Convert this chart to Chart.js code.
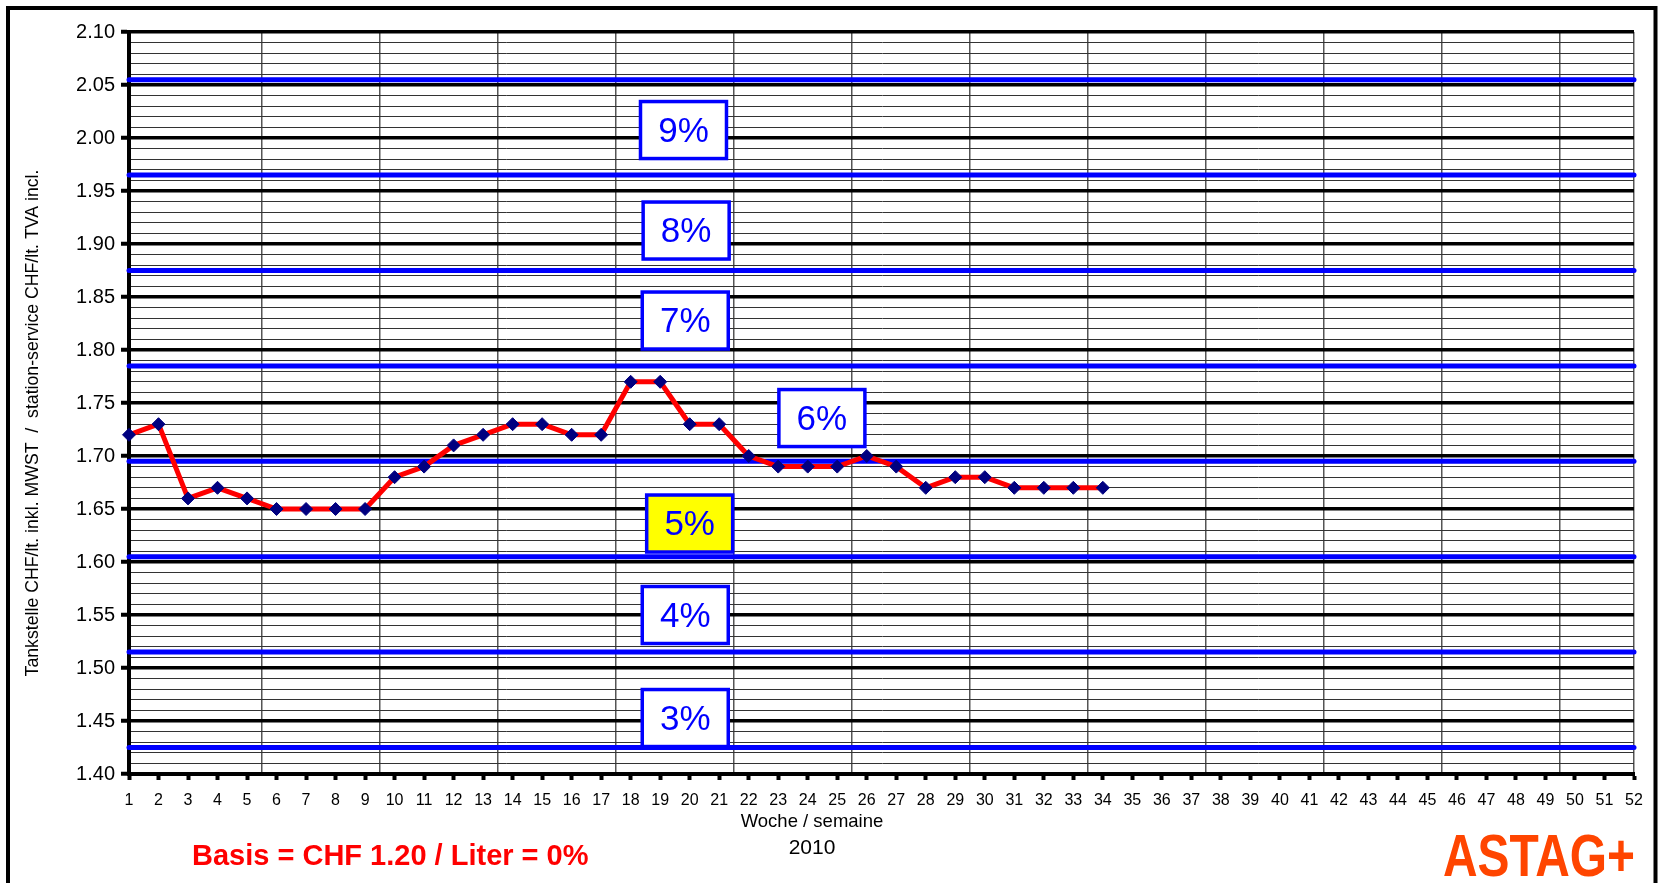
<!DOCTYPE html>
<html><head><meta charset="utf-8">
<script src="https://cdn.jsdelivr.net/npm/chart.js@4.4.0/dist/chart.umd.min.js"></script>
<style>html,body{margin:0;padding:0;background:#fff}#wrap{width:1658px;height:883px;position:relative}</style>
</head><body><div id="wrap"><canvas id="c"></canvas></div>
<script>
// ---- data ----
const weeks = [1,2,3,4,5,6,7,8,9,10,11,12,13,14,15,16,17,18,19,20,21,22,23,24,25,26,27,28,29,30,31,32,33,34];
const prices = [1.72,1.73,1.66,1.67,1.66,1.65,1.65,1.65,1.65,1.68,1.69,1.71,1.72,1.73,1.73,1.72,1.72,1.77,1.77,1.73,1.73,1.70,1.69,1.69,1.69,1.70,1.69,1.67,1.68,1.68,1.67,1.67,1.67,1.67];
const bandLimits = [1.425,1.515,1.605,1.695,1.785,1.875,1.965,2.055];
const bandLabels = ['3%','4%','5%','6%','7%','8%','9%'];
const bandLabelWeeks = [19.85,19.85,20.0,24.48,19.85,19.88,19.79];
const bandLabelPrices = [1.4528,1.550,1.6363,1.7358,1.8278,1.9127,2.0075];
const currentBand = '5%';
const weekGridLines = [5.5,9.5,13.5,17.5,21.5,25.5,29.5,33.5,37.5,41.5,45.5,49.5,52];
const weekMin = 1, weekMax = 52;
const priceMin = 1.40, priceMax = 2.10, priceStep = 0.01, priceLabelStep = 0.05;
const yTitle = 'Tankstelle CHF/lt. inkl. MWST  /  station-service CHF/lt. TVA incl.';
const xTitle = 'Woche / semaine';
const yearLabel = '2010';
const basisLabel = 'Basis = CHF 1.20 / Liter = 0%';
const logoText = 'ASTAG+';

const FONT = '"Liberation Sans", Arial, Helvetica, sans-serif';
const isMajor = v => Math.abs(Math.round(v / priceLabelStep) - v / priceLabelStep) < 1e-6;

const datasets = [{
  data: weeks.map((w, i) => ({x: w, y: prices[i]})),
  borderColor: '#ff0000', borderWidth: 5, borderJoinStyle: 'round',
  pointStyle: 'rectRot', pointRadius: 6.5, pointHoverRadius: 6.5,
  pointBackgroundColor: '#000080', pointBorderColor: '#000080', pointBorderWidth: 1,
  tension: 0, clip: false
}];
bandLimits.forEach(v => datasets.push({
  data: [{x: weekMin, y: v}, {x: weekMax, y: v}],
  borderColor: '#0000ff', borderWidth: 5, borderCapStyle: 'round',
  pointRadius: 0, pointHoverRadius: 0, tension: 0, clip: false
}));

const decor = {
  id: 'decor',
  beforeDraw(chart) {
    const c = chart.ctx;
    c.save(); c.fillStyle = '#fff'; c.fillRect(0, 0, chart.width, chart.height); c.restore();
  },
  afterDraw(chart) {
    const c = chart.ctx, xs = chart.scales.x, ys = chart.scales.y;
    c.save();
    // band boxes
    bandLabels.forEach((t, i) => {
      const cx = xs.getPixelForValue(bandLabelWeeks[i]);
      const cy = ys.getPixelForValue(bandLabelPrices[i]);
      const w = 86, h = 57;
      c.fillStyle = t === currentBand ? '#ffff00' : '#ffffff';
      c.fillRect(cx - w / 2, cy - h / 2, w, h);
      c.strokeStyle = '#0000ff'; c.lineWidth = 3.5;
      c.strokeRect(cx - w / 2, cy - h / 2, w, h);
      c.fillStyle = '#0000ff'; c.font = '35px ' + FONT;
      c.textAlign = 'center'; c.textBaseline = 'middle';
      c.fillText(t, cx, cy + 2);
    });
    // y title
    c.save();
    c.translate(33, 423); c.rotate(-Math.PI / 2);
    c.fillStyle = '#000'; c.font = '17.7px ' + FONT; c.textAlign = 'center'; c.textBaseline = 'middle';
    c.fillText(yTitle, 0, 0);
    c.restore();
    // x title and year
    c.fillStyle = '#000'; c.textAlign = 'center'; c.textBaseline = 'middle';
    c.font = '18.5px ' + FONT; c.fillText(xTitle, 812, 822);
    c.font = '21px ' + FONT; c.fillText(yearLabel, 812, 848);
    // basis label
    c.fillStyle = '#ff0000'; c.font = 'bold 29px ' + FONT; c.textAlign = 'left';
    c.fillText(basisLabel, 192, 857);
    // logo
    c.fillStyle = '#ff4500'; c.font = 'bold 56px ' + FONT; c.textAlign = 'left'; c.textBaseline = 'alphabetic';
    const lw = c.measureText(logoText).width;
    c.save(); c.translate(1443, 876); c.scale(192 / lw, 1.05); c.fillText(logoText, 0, 0); c.restore();
    // frame
    c.strokeStyle = '#000'; c.lineWidth = 4;
    c.strokeRect(8, 8, 1647.5, 900);
    c.restore();
  }
};

new Chart(document.getElementById('c'), {
  type: 'line',
  data: {datasets},
  plugins: [decor],
  options: {
    responsive: true, maintainAspectRatio: false, animation: false,
    devicePixelRatio: 1,
    layout: {autoPadding: false, padding: {left: 0, top: 32, right: 24, bottom: 64}},
    plugins: {legend: {display: false}, tooltip: {enabled: false}},
    events: [],
    scales: {
      x: {
        type: 'linear', position: 'bottom', min: weekMin, max: weekMax,
        ticks: {stepSize: 1, autoSkip: false, maxRotation: 0, color: '#000', font: {family: FONT, size: 16}, padding: 11},
        grid: {drawOnChartArea: false, drawTicks: true, tickLength: 6, tickWidth: 4, tickColor: '#000'},
        border: {display: true, color: '#000', width: 4},
        afterFit: s => { s.height = 45; }
      },
      xg: {
        type: 'linear', position: 'top', min: weekMin, max: weekMax,
        afterBuildTicks: s => { s.ticks = weekGridLines.map(v => ({value: v})); },
        ticks: {display: false},
        grid: {drawTicks: false, color: '#555', lineWidth: 1.5},
        border: {display: false},
        afterFit: s => { s.height = 0; }
      },
      y: {
        type: 'linear', min: priceMin, max: priceMax,
        ticks: {
          stepSize: priceStep, autoSkip: false, color: '#000', padding: 6,
          font: {family: FONT, size: 20},
          callback: v => isMajor(v) ? v.toFixed(2) : ''
        },
        grid: {
          color: ctx => isMajor(ctx.tick.value) ? '#000' : '#333',
          lineWidth: ctx => isMajor(ctx.tick.value) ? 3.5 : 1,
          tickLength: 8,
          tickWidth: ctx => isMajor(ctx.tick.value) ? 4 : 0,
          tickColor: ctx => isMajor(ctx.tick.value) ? '#000' : 'rgba(0,0,0,0)'
        },
        border: {display: true, color: '#000', width: 4},
        afterFit: s => { s.width = 129; }
      }
    }
  }
});
</script></body></html>
